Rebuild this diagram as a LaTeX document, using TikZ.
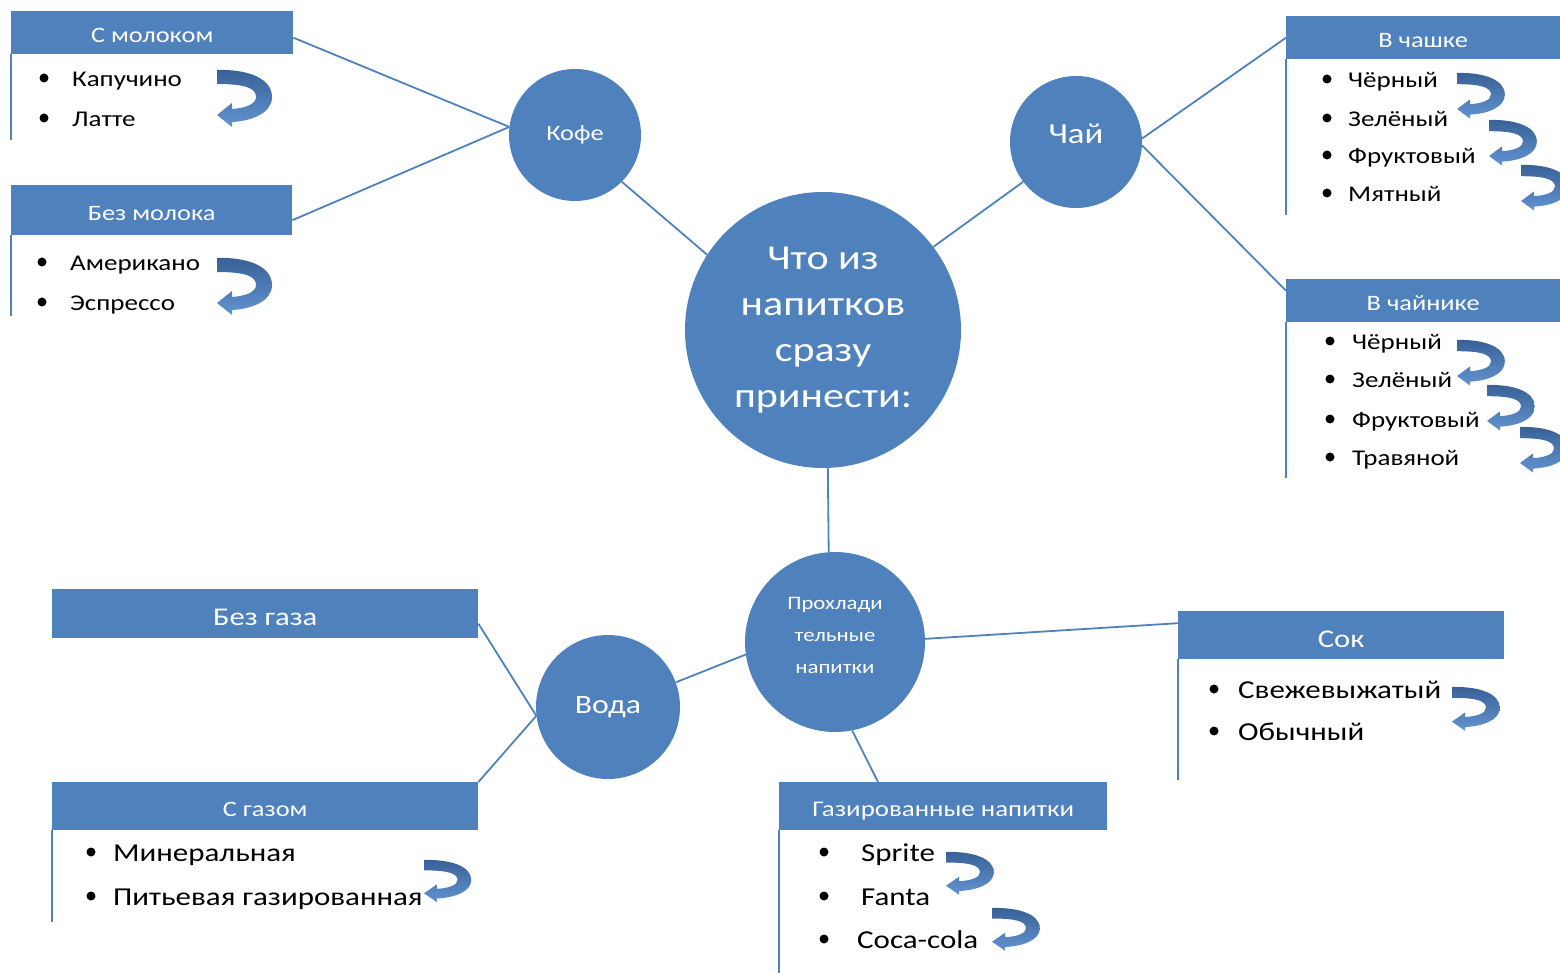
\documentclass[tikz,border=0pt]{standalone}
\usepackage{fontspec}
\setmainfont{Carlito}[FakeStretch=1.2]
\definecolor{mapblue}{RGB}{79,129,189}
\definecolor{arrdark}{RGB}{56,96,150}
\definecolor{arrlight}{RGB}{98,148,208}

\begin{document}
\begin{tikzpicture}[x=1pt,y=-1pt,
  link/.style={draw=mapblue,line width=1.8pt},
  stem/.style={draw=mapblue,line width=2pt},
  hub/.style={circle,fill=mapblue,text=white,inner sep=0pt,align=center},
  head/.style={fill=mapblue,text=white,anchor=north west,inner sep=0pt,text height=20pt,text depth=0pt,font=\fontsize{22}{26}\selectfont},
  bighead/.style={head,text height=24pt,font=\fontsize{25.5}{30}\selectfont},
  item/.style={anchor=mid west,inner sep=0pt,yshift=-6pt,font=\fontsize{22.5}{27}\selectfont},
  bigitem/.style={item,yshift=-1pt,font=\fontsize{25.8}{30}\selectfont},
  pics/uturn/.style={code={
    \path[top color=arrdark,bottom color=arrlight]
      (0,0) .. controls (30,-1) and (55,8) .. (55,27)
      .. controls (55,43) and (35,51) .. (15,52)
      -- (15,57) -- (0,45) -- (15,33) -- (15,39)
      .. controls (29,38) and (39,34) .. (39,27)
      .. controls (39,18) and (28,14) .. (0,14) -- cycle;}}]
  \useasboundingbox (0,0) rectangle (1560,973);

  % circles
  \node[hub,minimum size=276pt,font=\fontsize{35}{46}\selectfont] (hub) at (823,330) {Что из\\напитков\\сразу\\принести:};
  \node[hub,minimum size=132pt,font=\fontsize{22}{26}\selectfont] (kofe) at (575,135) {Кофе};
  \node[hub,minimum size=132pt] (chai) at (1076,142) {};
  \node[text=white,font=\fontsize{29}{35}\selectfont] (chait) at (1076,134) {Чай};
  \node[hub,minimum size=180pt] (cool) at (835,642) {};
  \node[text=white,align=center,font=\fontsize{19}{32}\selectfont] (coolt) at (835,635) {Прохлади\\тельные\\напитки};
  \node[hub,minimum size=144pt,font=\fontsize{26.5}{32}\selectfont] (voda) at (608,707) {Вода};

  % headers
  \node[head,minimum width=282pt,minimum height=43pt] (milk) at (11,11) {С молоком};
  \node[head,minimum width=281pt,minimum height=50pt] (nomilk) at (11,185) {Без молока};
  \node[head,minimum width=274pt,minimum height=43pt] (cup) at (1286,16) {В чашке};
  \node[head,minimum width=274pt,minimum height=43pt] (pot) at (1286,279) {В чайнике};
  \node[bighead,minimum width=426pt,minimum height=49pt] (nogas) at (52,589) {Без газа};
  \node[head,minimum width=426pt,minimum height=48pt] (gas) at (52,782) {С газом};
  \node[bighead,minimum width=326pt,minimum height=48pt] (juice) at (1178,611) {Сок};
  \node[head,minimum width=328pt,minimum height=48pt,font=\fontsize{22.4}{26}\selectfont] (soda) at (779,782) {Газированные напитки};

  \draw[stem] (milk.south west) -- ++(0,86);
  \draw[stem] (nomilk.south west) -- ++(0,81);
  \draw[stem] (cup.south west) -- ++(0,156);
  \draw[stem] (pot.south west) -- ++(0,156);
  \draw[stem] (gas.south west) -- ++(0,92);
  \draw[stem] (juice.south west) -- ++(0,121);
  \draw[stem] (soda.south west) -- ++(0,143);

  % connectors
  \draw[link] ([yshift=-5pt]milk.east) -- (kofe.173);
  \draw[link] ([yshift=-10pt]nomilk.east) -- (kofe.173);
  \draw[link] (kofe.-45) -- (hub.147);
  \draw[link] (hub.37) -- (chai.217);
  \draw[link] (chai.3) -- (cup.west);
  \draw[link] (chai.-3) -- ([yshift=10pt]pot.west);
  \draw[link] (hub.-88) -- (cool.94);
  \draw[link] (cool.2) -- ([yshift=12pt]juice.west);
  \draw[link] (cool.-79) -- ([xshift=99pt]soda.north west);
  \draw[link] (cool.-172) -- (voda.20);
  \draw[link] (voda.187) -- ([yshift=-10pt]nogas.east);
  \draw[link] (voda.187) -- (gas.north east);

  % lists
  \foreach \t/\y [count=\i] in {Капучино/78,Латте/118}{
    \fill (44,\y) circle (4.5);
    \node[item] (milk\i) at (72,\y) {\t};
  }
  \foreach \t/\y [count=\i] in {Американо/262,Эспрессо/302}{
    \fill (42,\y) circle (4.5);
    \node[item] (nomilk\i) at (70,\y) {\t};
  }
  \foreach \t/\y [count=\i] in {Чёрный/79,Зелёный/118,Фруктовый/155,Мятный/193}{
    \fill (1327,\y) circle (4.5);
    \node[item] (cup\i) at (1348,\y) {\t};
  }
  \foreach \t/\y [count=\i] in {Чёрный/341,Зелёный/379,Фруктовый/419,Травяной/457}{
    \fill (1330,\y) circle (4.5);
    \node[item] (pot\i) at (1352,\y) {\t};
  }
  \foreach \t/\y [count=\i] in {Минеральная/852,Питьевая газированная/896}{
    \fill (91,\y) circle (4.5);
    \node[bigitem] (gas\i) at (113,\y) {\t};
  }
  \foreach \t/\y [count=\i] in {Свежевыжатый/689,Обычный/731}{
    \fill (1214,\y) circle (4.5);
    \node[bigitem] (juice\i) at (1238,\y) {\t};
  }
  \foreach \t/\x/\y [count=\i] in {Sprite/861/852,Fanta/861/896,Coca-cola/857/939}{
    \fill (824,\y) circle (4.5);
    \node[bigitem] (soda\i) at (\x,\y) {\t};
  }

  % turn arrows
  \pic at (217,70) {uturn};
  \pic at (217,258) {uturn};
  \pic[xscale=.87,yscale=.8] at (1457,73) {uturn};
  \pic[xscale=.87,yscale=.8] at (1489,120) {uturn};
  \pic[xscale=.87,yscale=.8] at (1521,165) {uturn};
  \pic[xscale=.87,yscale=.8] at (1457,340) {uturn};
  \pic[xscale=.87,yscale=.8] at (1487,385) {uturn};
  \pic[xscale=.87,yscale=.8] at (1520,427) {uturn};
  \pic[xscale=.86,yscale=.74] at (424,860) {uturn};
  \pic[xscale=.87,yscale=.77] at (1452,687) {uturn};
  \pic[xscale=.87,yscale=.75] at (946,852) {uturn};
  \pic[xscale=.87,yscale=.75] at (992,908) {uturn};
\end{tikzpicture}
\end{document}
